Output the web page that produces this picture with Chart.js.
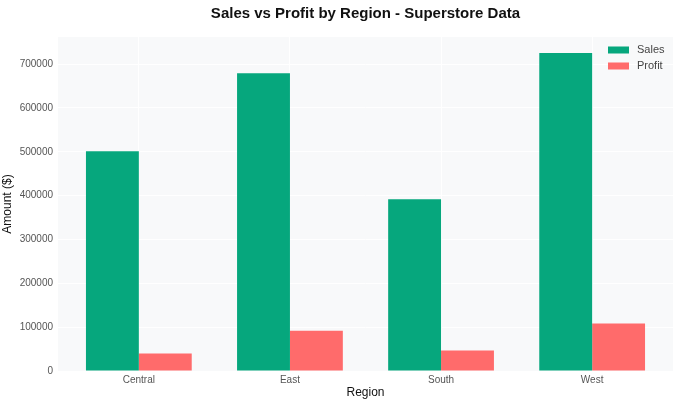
<!DOCTYPE html>
<html>
<head>
<meta charset="utf-8">
<script src="https://cdn.jsdelivr.net/npm/chart.js@4"></script>
<style>
html,body{margin:0;padding:0;background:#fff;}
#wrap{width:680px;height:405px;position:relative;}
</style>
</head>
<body>
<div id="wrap"><canvas id="c" width="680" height="405"></canvas></div>
<script>
const regions = ["Central", "East", "South", "West"];
const salesValues = [501240, 678781, 391722, 725458];
const profitValues = [39706, 91523, 46749, 108418];
const yTicks = [0, 100000, 200000, 300000, 400000, 500000, 600000, 700000];

const FONT = "'Liberation Sans', Arial, sans-serif";
const GRID = 'rgba(255,255,255,0.95)';
const yMax = Math.max(...salesValues) * 1.05;
const xPad = 0.35 + 0.05 * (regions.length - 1 + 0.7);

const bgPlugin = {
  id: 'plotBg',
  beforeDraw(chart) {
    const {ctx, chartArea: a} = chart;
    ctx.save();
    ctx.fillStyle = '#f8f9fa';
    ctx.fillRect(a.left, a.top, a.right - a.left, a.bottom - a.top);
    ctx.restore();
  }
};

const legendPlugin = {
  id: 'innerLegend',
  afterDraw(chart) {
    const {ctx, chartArea: a} = chart;
    ctx.save();
    ctx.font = '11px ' + FONT;
    ctx.textBaseline = 'middle';
    ctx.textAlign = 'left';
    chart.data.datasets.forEach((ds, i) => {
      const y = a.top + 13 + i * 16;
      const x = a.right - 65;
      ctx.fillStyle = ds.backgroundColor;
      ctx.fillRect(x, y - 3.5, 21, 7);
      ctx.fillStyle = '#444';
      ctx.fillText(ds.label, x + 29, y);
    });
    ctx.restore();
  }
};

const isIdx = v => Number.isInteger(v) && v >= 0 && v < regions.length;

new Chart(document.getElementById('c'), {
  type: 'bar',
  data: {
    datasets: [
      {label: 'Sales', data: salesValues.map((v, i) => ({x: i, y: v})), backgroundColor: '#06a77d', borderWidth: 0},
      {label: 'Profit', data: profitValues.map((v, i) => ({x: i, y: v})), backgroundColor: '#ff6b6b', borderWidth: 0}
    ]
  },
  plugins: [bgPlugin, legendPlugin],
  options: {
    responsive: false,
    animation: false,
    devicePixelRatio: 1,
    layout: {padding: {left: 0, right: 7, top: 0, bottom: 0}},
    datasets: {bar: {categoryPercentage: 0.7, barPercentage: 1.0}},
    plugins: {
      legend: {display: false},
      tooltip: {enabled: false},
      title: {
        display: true,
        text: 'Sales vs Profit by Region - Superstore Data',
        fullSize: false,
        color: '#111',
        font: {family: FONT, size: 15, weight: 'bold', lineHeight: 1.2},
        padding: {top: 5, bottom: 14}
      }
    },
    scales: {
      x: {
        type: 'linear',
        offset: false,
        min: -xPad,
        max: regions.length - 1 + xPad,
        grid: {offset: false, color: c => (c.tick && isIdx(c.tick.value)) ? GRID : 'rgba(0,0,0,0)', drawTicks: false},
        border: {display: false},
        afterBuildTicks(s) { s.ticks = regions.map((r, i) => ({value: i})); },
        ticks: {color: '#555', font: {family: FONT, size: 10}, padding: 3,
                callback: v => isIdx(v) ? regions[v] : ''},
        title: {display: true, text: 'Region', color: '#111', font: {family: FONT, size: 12}, padding: {top: 2, bottom: 5}},
        afterFit(s) { s.height = 34; }
      },
      y: {
        min: 0,
        max: yMax,
        grid: {color: GRID, drawTicks: false},
        border: {display: false},
        afterBuildTicks(s) { s.ticks = yTicks.map(v => ({value: v})); },
        ticks: {color: '#555', font: {family: FONT, size: 10}, padding: 5, callback: v => String(v)},
        title: {display: true, text: 'Amount ($)', color: '#111', font: {family: FONT, size: 12}, padding: {top: 0, bottom: 0}},
        afterFit(s) { s.width = 58; }
      }
    }
  }
});
</script>
</body>
</html>
